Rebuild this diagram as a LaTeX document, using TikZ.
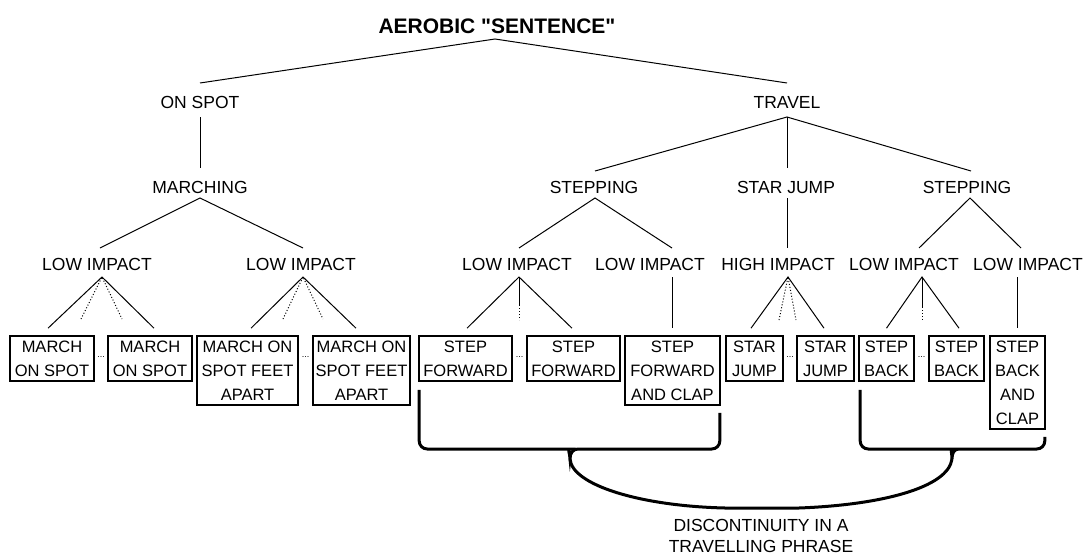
\documentclass[tikz,border=0pt]{standalone}
\usepackage{fontspec}
\setmainfont{Liberation Sans}
% straight quotes in the title: no TeX quote mapping
\newfontfamily\headfont{Liberation Sans}[Ligatures=TeXOff]
\begin{document}
\begin{tikzpicture}[x=1pt,y=-1pt,
  lbl/.style={inner sep=0pt, anchor=base, font=\fontsize{17.5}{24}\selectfont},
  leaf/.style={draw, line width=1.6pt, inner sep=0pt, align=center,
               font=\fontsize{16.5}{24}\selectfont},
  tworow/.style={minimum height=45pt},
  threerow/.style={minimum height=69pt},
  fourrow/.style={minimum height=93pt},
  link/.style={line width=1pt},
  elide/.style={line width=1pt, dash pattern=on 1pt off 2pt},
  brace/.style={line width=3pt},
  gapdots/.style={inner sep=0pt, anchor=base, font=\fontsize{9}{9}\selectfont}
]
\fill[white] (0,0) rectangle (1087,557);
\useasboundingbox (0,0) rectangle (1087,557);

% labels of the tree
\node[lbl, font=\headfont\bfseries\fontsize{21}{24}\selectfont] (root) at (497,33) {AEROBIC "SENTENCE"};
\node[lbl] (onspot) at (200,108) {ON SPOT};
\node[lbl] (travel) at (787,108) {TRAVEL};
\node[lbl] (march)  at (200,193) {MARCHING};
\node[lbl] (stepA)  at (594,193) {STEPPING};
\node[lbl] (star)   at (786,193) {STAR JUMP};
\node[lbl] (stepB)  at (967,193) {STEPPING};
\node[lbl] (liA) at (97,270)   {LOW IMPACT};
\node[lbl] (liB) at (301,270)  {LOW IMPACT};
\node[lbl] (liC) at (517,270)  {LOW IMPACT};
\node[lbl] (liD) at (650,270)  {LOW IMPACT};
\node[lbl] (hi)  at (778,270)  {HIGH IMPACT};
\node[lbl] (liE) at (904,270)  {LOW IMPACT};
\node[lbl] (liF) at (1028,270) {LOW IMPACT};

% movement boxes
\node[leaf, tworow, minimum width=84pt]    (b1)  at (52,358.5)   {MARCH\\ON SPOT};
\node[leaf, tworow, minimum width=84pt]    (b2)  at (150,358.5)  {MARCH\\ON SPOT};
\node[leaf, threerow, minimum width=101pt] (b3)  at (247.5,370.5) {MARCH ON\\SPOT FEET\\APART};
\node[leaf, threerow, minimum width=97pt]  (b4)  at (361.5,370.5) {MARCH ON\\SPOT FEET\\APART};
\node[leaf, tworow, minimum width=93pt]    (b5)  at (465.5,358.5) {STEP\\FORWARD};
\node[leaf, tworow, minimum width=93pt]    (b6)  at (573.5,358.5) {STEP\\FORWARD};
\node[leaf, threerow, minimum width=95pt]  (b7)  at (672.5,370.5) {STEP\\FORWARD\\AND CLAP};
\node[leaf, tworow, minimum width=57pt]    (b8)  at (754.5,358.5) {STAR\\JUMP};
\node[leaf, tworow, minimum width=57pt]    (b9)  at (825.5,358.5) {STAR\\JUMP};
\node[leaf, tworow, minimum width=55pt]    (b10) at (886.5,358.5) {STEP\\BACK};
\node[leaf, tworow, minimum width=55pt]    (b11) at (956.5,358.5) {STEP\\BACK};
\node[leaf, fourrow, minimum width=55pt]   (b12) at (1017.5,382.5) {STEP\\BACK\\AND\\CLAP};

% ellipsis between repeated boxes
\node[gapdots] (g1) at (101,357)   {...};
\node[gapdots] (g2) at (305.5,357) {...};
\node[gapdots] (g3) at (519.5,357) {...};
\node[gapdots] (g4) at (790,357)   {...};
\node[gapdots] (g5) at (921.5,357) {...};

% caption under the brace
\node[lbl, anchor=north, align=center, font=\fontsize{17.5}{21}\selectfont] (note) at (761,519)
  {DISCONTINUITY IN A\\TRAVELLING PHRASE};

% upper levels
\draw[link] ([yshift=25pt]onspot.base) -- ([xshift=-2pt,yshift=-6pt]root.base) -- ([yshift=25pt]travel.base);
\draw[link] ([yshift=-9pt]onspot.base) -- ([yshift=25pt]march.base);
\draw[link] ([xshift=3pt,yshift=22pt]liA.base) -- ([yshift=-5pt]march.base) -- ([xshift=2pt,yshift=22pt]liB.base);
\draw[link] ([xshift=1pt,yshift=22pt]stepA.base) -- ([yshift=-9pt]travel.base) -- ([xshift=4pt,yshift=22pt]stepB.base);
\draw[link] ([yshift=-9pt]travel.base) -- ([xshift=1pt,yshift=25pt]star.base);
\draw[link] ([xshift=2pt,yshift=22pt]liC.base) -- ([xshift=1pt,yshift=-5pt]stepA.base) -- ([xshift=22pt,yshift=22pt]liD.base);
\draw[link] ([xshift=1pt,yshift=-5pt]star.base) -- ([xshift=9pt,yshift=22pt]hi.base);
\draw[link] ([xshift=15pt,yshift=22pt]liE.base) -- ([xshift=3pt,yshift=-5pt]stepB.base) -- ([xshift=-7pt,yshift=22pt]liF.base);

% impact level to movements
\coordinate (eA1) at (81,319);  \coordinate (eA2) at (122,319);
\coordinate (eB1) at (283,319); \coordinate (eB2) at (323,319);
\coordinate (eCs) at (519,305); \coordinate (eC)  at (519,320);
\coordinate (eH1) at (779,320); \coordinate (eH2) at (796,320);
\coordinate (eEs) at (922,307); \coordinate (eE)  at (922,320);

\draw[link] ([xshift=-4pt,yshift=7pt]b1.north) -- ([xshift=5pt,yshift=-7pt]liA.base) -- ([xshift=4pt,yshift=7pt]b2.north);
\draw[elide] (eA1) -- ([xshift=5pt,yshift=-7pt]liA.base) -- (eA2);

\draw[link] ([xshift=3.5pt,yshift=7pt]b3.north) -- ([xshift=2pt,yshift=-7pt]liB.base) -- ([xshift=-5.5pt,yshift=7pt]b4.north);
\draw[elide] (eB1) -- ([xshift=2pt,yshift=-7pt]liB.base) -- (eB2);

\draw[link] ([xshift=1.5pt,yshift=7pt]b5.north) -- ([xshift=2pt,yshift=-7pt]liC.base) -- ([xshift=-1.5pt,yshift=7pt]b6.north);
\draw[link] ([xshift=2pt,yshift=-7pt]liC.base) -- (eCs);
\draw[elide] (eCs) -- (eC);

\draw[link] ([xshift=22pt,yshift=-7pt]liD.base) -- ([xshift=-0.5pt,yshift=7pt]b7.north);

\draw[link] ([xshift=-3.5pt,yshift=7pt]b8.north) -- ([xshift=10pt,yshift=-7pt]hi.base) -- ([xshift=-1.5pt,yshift=7pt]b9.north);
\draw[elide] (eH1) -- ([xshift=10pt,yshift=-7pt]hi.base) -- (eH2);

\draw[link] ([yshift=7pt]b10.north) -- ([xshift=18pt,yshift=-7pt]liE.base) -- ([xshift=2.5pt,yshift=7pt]b11.north);
\draw[link] ([xshift=18pt,yshift=-7pt]liE.base) -- (eEs);
\draw[elide] (eEs) -- (eE);

\draw[link] ([xshift=-11pt,yshift=-7pt]liF.base) -- ([xshift=-0.5pt,yshift=7pt]b12.north);

% braces grouping the forward and backward steps
\coordinate (tipL) at (570,459);
\coordinate (tipR) at (952,459);
\draw[brace] ([xshift=1pt,yshift=-8pt]b5.south west)
  [rounded corners=8pt] |- ([xshift=-8pt,yshift=10pt]tipL) [sharp corners]
  .. controls +(5,0) and +(0,-6) .. (tipL)
  .. controls +(0,-6) and +(-5,0) .. ([xshift=8pt,yshift=10pt]tipL)
  [rounded corners=8pt] -| ([xshift=-1pt,yshift=-7pt]b7.south east);
\draw[brace] ([xshift=2pt,yshift=-8pt]b10.south west)
  [rounded corners=8pt] |- ([xshift=-7pt,yshift=10pt]tipR) [sharp corners]
  .. controls +(5,0) and +(0,-6) .. (tipR)
  .. controls +(0,-6) and +(-5,0) .. ([xshift=7pt,yshift=10pt]tipR)
  [rounded corners=8pt] -| ([xshift=-1pt,yshift=-7pt]b12.south east);
\coordinate (flatL) at (725,508);
\coordinate (flatR) at (799,508);
\draw[brace] (tipL) .. controls +(2,26) and +(-85,-2) .. (flatL) -- (flatR)
  .. controls +(81,-3) and +(-4,29) .. (tipR);
\end{tikzpicture}
\end{document}
